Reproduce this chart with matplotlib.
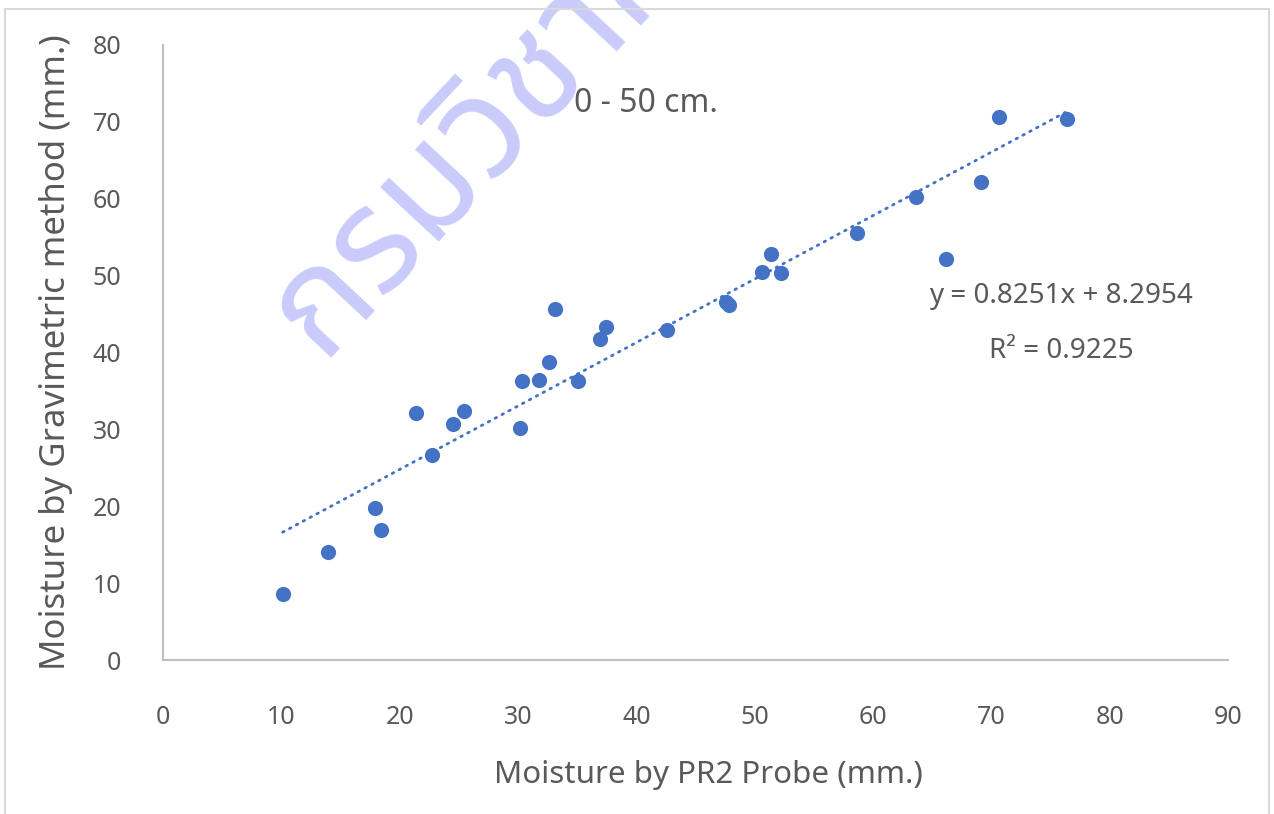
import matplotlib
matplotlib.use("Agg")
import matplotlib.pyplot as plt
from matplotlib import font_manager
from matplotlib.ft2font import FT2Font
from matplotlib.patches import Rectangle
import numpy as np

# PR2 probe readings vs gravimetric readings, 0 - 50 cm layer
pr2 = [10.1, 13.9, 17.9, 18.4, 21.4, 22.7, 24.5, 25.4, 30.2, 30.3,
       31.8, 32.6, 33.1, 35.1, 36.9, 37.4, 42.6, 47.6, 47.8, 50.6,
       51.4, 52.2, 58.6, 63.6, 66.2, 69.1, 70.6, 76.4]
grav = [8.6, 14.0, 19.8, 16.9, 32.1, 26.7, 30.7, 32.4, 30.2, 36.3,
        36.4, 38.8, 45.6, 36.3, 41.7, 43.3, 42.9, 46.6, 46.2, 50.5,
        52.8, 50.3, 55.5, 60.2, 52.1, 62.2, 70.6, 70.4]
slope, intercept = 0.8251, 8.2954
r2 = 0.9225

blue = "#4472C4"
grey = "#595959"

plt.rcParams['font.family'] = ['Noto Sans', 'DejaVu Sans']

# fonts with Thai glyphs for the watermark, prefer a loopless one
thai_fonts = []
for f in font_manager.fontManager.ttflist:
    try:
        if 0x0E01 in FT2Font(f.fname).get_charmap():
            thai_fonts.append(f.name)
    except Exception:
        pass
thai_font = None
for pref in ['Noto Sans Thai', 'Sawasdee', 'Umpush', 'Garuda', 'Loma']:
    if pref in thai_fonts:
        thai_font = pref
        break
if thai_font is None and thai_fonts:
    thai_font = thai_fonts[0]

fig = plt.figure(figsize=(12.74, 8.14), dpi=100)
fig.patches.append(Rectangle((0.004, -0.01), 0.992, 0.9995, transform=fig.transFigure,
                             fill=False, edgecolor="#d9d9d9", lw=1.5))

ax = fig.add_axes([0.128, 0.189, 0.836, 0.756])

ax.scatter(pr2, grav, s=120, color=blue, zorder=3, linewidths=0)
xs = np.array([min(pr2), max(pr2)])
ax.plot(xs, slope * xs + intercept, color=blue, lw=2, linestyle=(0, (0.6, 2.2)),
        dash_capstyle='round', zorder=2)

ax.set_xlim(0, 90)
ax.set_ylim(0, 80)
ax.set_xticks(range(0, 91, 10))
ax.set_yticks(range(0, 81, 10))
for s in ['top', 'right']:
    ax.spines[s].set_visible(False)
for s in ['left', 'bottom']:
    ax.spines[s].set_color("#bfbfbf")
    ax.spines[s].set_linewidth(1.5)
ax.tick_params(length=0, labelsize=18, labelcolor=grey)
ax.tick_params(axis='x', pad=32)
ax.tick_params(axis='y', pad=30)

ax.set_xlabel("Moisture by PR2 Probe (mm.)", fontsize=22.5, color=grey)
ax.xaxis.set_label_coords(0.512, -0.163)
ax.set_ylabel("Moisture by Gravimetric method (mm.)", fontsize=25, color=grey, labelpad=14)

ax.text(0.453, 0.905, "0 - 50 cm.", transform=ax.transAxes, ha='center', va='center',
        fontsize=23, color=grey, zorder=5)
ax.text(0.843, 0.592, "y = {}x + {}".format(slope, intercept), transform=ax.transAxes,
        ha='center', va='center', fontsize=20, color=grey)
ax.text(0.843, 0.502, "R² = {:.4f}".format(r2), transform=ax.transAxes,
        ha='center', va='center', fontsize=20, color=grey)

# watermark
if thai_font:
    ax.text(0.252, 0.56, "กรมวิชาการเกษตร", fontsize=104, color="#c9ccfa",
            family=[thai_font, 'DejaVu Sans'], rotation=47, rotation_mode='anchor',
            ha='left', va='baseline', transform=fig.transFigure, clip_on=False, zorder=1)

fig.savefig("out.png", dpi=100)
